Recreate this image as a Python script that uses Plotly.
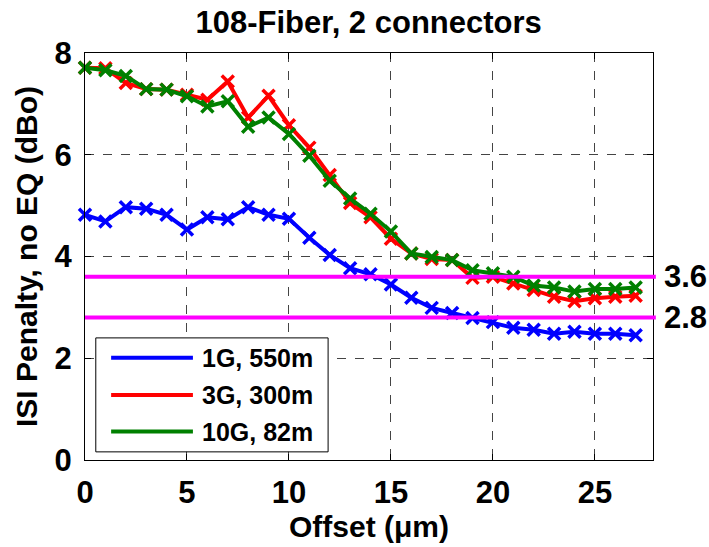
import plotly.graph_objects as go

# Offset positions (um)
offset = list(range(0, 28))

# ISI penalty (dBo) for each link configuration
pen_1g = [4.82, 4.69, 4.97, 4.94, 4.82, 4.53, 4.77, 4.73, 4.97, 4.82,
          4.74, 4.37, 4.03, 3.77, 3.65, 3.45, 3.19, 2.99, 2.89, 2.79,
          2.71, 2.60, 2.56, 2.48, 2.52, 2.48, 2.48, 2.45]
pen_3g = [7.71, 7.70, 7.41, 7.29, 7.28, 7.18, 7.08, 7.44, 6.73, 7.16,
          6.58, 6.14, 5.60, 5.05, 4.77, 4.35, 4.06, 3.95, 3.93, 3.58,
          3.60, 3.47, 3.34, 3.21, 3.12, 3.18, 3.21, 3.23]
pen_10g = [7.71, 7.66, 7.55, 7.29, 7.28, 7.15, 6.95, 7.05, 6.55, 6.73,
           6.41, 5.98, 5.49, 5.14, 4.84, 4.49, 4.06, 3.99, 3.93, 3.73,
           3.67, 3.60, 3.43, 3.39, 3.31, 3.36, 3.36, 3.39]

series_names = ["1G, 550m", "3G, 300m", "10G, 82m"]
series_vals = [pen_1g, pen_3g, pen_10g]
series_colors = ["#0000FF", "#FF0000", "#008000"]

# Penalty budget limits
limits = [3.6, 2.8]
limit_color = "#FF00FF"

x_ticks = [0, 5, 10, 15, 20, 25]
y_ticks = [0, 2, 4, 6, 8]

FONT = "Liberation Sans, Arial, Helvetica, sans-serif"

fig = go.Figure()

for name, vals, col in zip(series_names, series_vals, series_colors):
    fig.add_trace(go.Scatter(
        x=offset, y=vals, name=name, mode="lines+markers",
        line=dict(color=col, width=4),
        marker=dict(symbol="x-thin", size=12, color=col,
                    line=dict(color=col, width=3.5)),
        showlegend=False, cliponaxis=False,
    ))

# Horizontal limit lines with their values on the right
for lv in limits:
    fig.add_shape(type="line", xref="paper", yref="y",
                  x0=0, x1=1.005, y0=lv, y1=lv,
                  line=dict(color=limit_color, width=4), layer="above")
    fig.add_annotation(xref="paper", yref="y", x=1.015, y=lv,
                       text=f"{lv:.1f}", showarrow=False,
                       xanchor="left", yanchor="middle",
                       font=dict(family=FONT, size=31, color="black",
                                 weight="bold"))

# Boxed legend in the lower-left corner
fig.add_shape(type="rect", xref="paper", yref="paper",
              x0=0.019, x1=0.428, y0=0.02, y1=0.300,
              line=dict(color="black", width=1), fillcolor="white",
              layer="above")
leg_rows = [0.251, 0.160, 0.070]
for row_y, name, col in zip(leg_rows, series_names, series_colors):
    fig.add_shape(type="line", xref="paper", yref="paper",
                  x0=0.046, x1=0.190, y0=row_y, y1=row_y,
                  line=dict(color=col, width=4), layer="above")
    fig.add_annotation(xref="paper", yref="paper", x=0.203, y=row_y,
                       text=name, showarrow=False,
                       xanchor="left", yanchor="middle",
                       font=dict(family=FONT, size=25, color="black",
                                 weight="bold"))

axis_common = dict(
    showline=True, linecolor="black", linewidth=1, mirror="ticks",
    ticks="inside", ticklen=6, tickcolor="black", tickwidth=1,
    showgrid=True, gridcolor="#444444", gridwidth=1, griddash="dash",
    zeroline=False,
    tickfont=dict(family=FONT, size=31, color="black", weight="bold"),
)

fig.update_xaxes(range=[0, 27.85], tickvals=x_ticks,
                 title=dict(text="Offset (\u03bcm)", standoff=4,
                            font=dict(family=FONT, size=30, color="black",
                                      weight="bold")),
                 ticklabelstandoff=5,
                 **axis_common)
fig.update_yaxes(range=[0, 8], tickvals=y_ticks,
                 title=dict(text="ISI Penalty, no EQ (dBo)", standoff=8,
                            font=dict(family=FONT, size=30, color="black",
                                      weight="bold")),
                 ticklabelstandoff=6,
                 **axis_common)

fig.update_layout(
    width=709, height=547,
    margin=dict(l=85, r=56, t=53, b=84),
    paper_bgcolor="white", plot_bgcolor="white",
    title=dict(text="108-Fiber, 2 connectors", x=0.52, xanchor="center",
               y=0.96, yanchor="middle",
               font=dict(family=FONT, size=31, color="black", weight="bold")),
    showlegend=False,
)

fig.write_html("out.html")
